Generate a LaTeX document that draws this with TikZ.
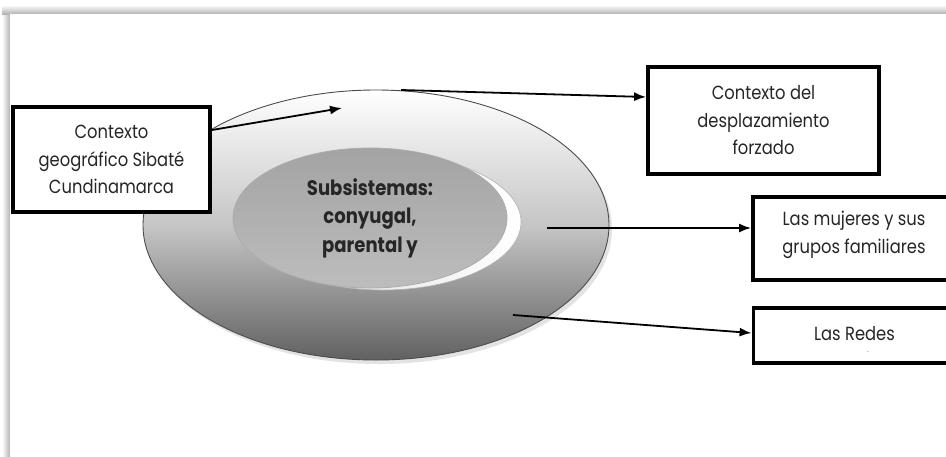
\documentclass[tikz,border=0pt]{standalone}
\usepackage{fontspec}
\setmainfont[FakeStretch=0.86]{Poppins}
\usetikzlibrary{arrows.meta,shapes.geometric,calc}
\begin{document}
\begin{tikzpicture}[x=1pt,y=-1pt,
  box/.style={draw=black,line width=3.8pt,fill=white,inner sep=0pt,align=center,text=black!85,font=\fontsize{19}{27.5}\selectfont},
  arr/.style={line width=1.8pt,-{Latex[length=12pt,width=9pt]}},
]
\useasboundingbox (0,0) rectangle (946,456);
% page and its shadow
\shade[left color=white,right color=gray!60] (2,10) rectangle (10,456);
\shade[top color=white,bottom color=gray!60] (2,5) rectangle (946,14);
\fill[white] (10,14) rectangle (946,456);
% outer ellipse
\fill[gray!22] (379,229) ellipse [x radius=233pt,y radius=135pt];
\node[ellipse,draw=gray!60!black,line width=0.9pt,top color=white,bottom color=black!62,middle color=gray!45,
  minimum width=466pt,minimum height=270pt,inner sep=0pt] (outer) at (376,225) {};
% crescent behind inner ellipse
\node[ellipse,draw=gray!60,line width=0.6pt,left color=gray!30,right color=white,
  minimum width=276pt,minimum height=136pt,inner sep=0pt] (rim) at (383,222) {};
% inner ellipse
\node[ellipse,draw=gray!65,line width=0.8pt,top color=gray!72,bottom color=gray!52,
  minimum width=274pt,minimum height=140pt,inner sep=0pt,align=center,
  font=\bfseries\fontsize{21}{28.5}\selectfont,text=black!85] (inner) at (370,218)
  {Subsistemas:\\conyugal,\\parental y};
% boxes
\node[box,minimum width=197pt,minimum height=105pt] (geo) at (111.5,159.5)
  {Contexto\\geográfico Sibaté\\Cundinamarca};
\node[box,minimum width=231pt,minimum height=107pt] (desp) at (763.5,120.5)
  {Contexto del\\desplazamiento\\forzado};
\node[box,minimum width=202pt,minimum height=83pt,text depth=12pt] (muj) at (854,238.5)
  {Las mujeres y sus\\grupos familiares};
\node[box,minimum width=202pt,minimum height=55pt,text depth=5pt] (redes) at (854.5,335.5) {Las Redes};
\node[font=\fontsize{7}{7}\selectfont,inner sep=0pt,text=black!80] (dot) at (868,352) {.};
% connectors
\coordinate (a1) at (342,108);
\coordinate (s2) at (401,90);
\coordinate (s3) at (547,228);
\coordinate (s4) at (513,315);
\draw[arr] (geo.east |- 0,130) -- (a1);
\draw[arr] (s2) -- (desp.west |- 0,97);
\draw[arr] (s3) -- (muj.west |- 0,228);
\draw[arr] (s4) -- (redes.west |- 0,333);
\end{tikzpicture}
\end{document}
